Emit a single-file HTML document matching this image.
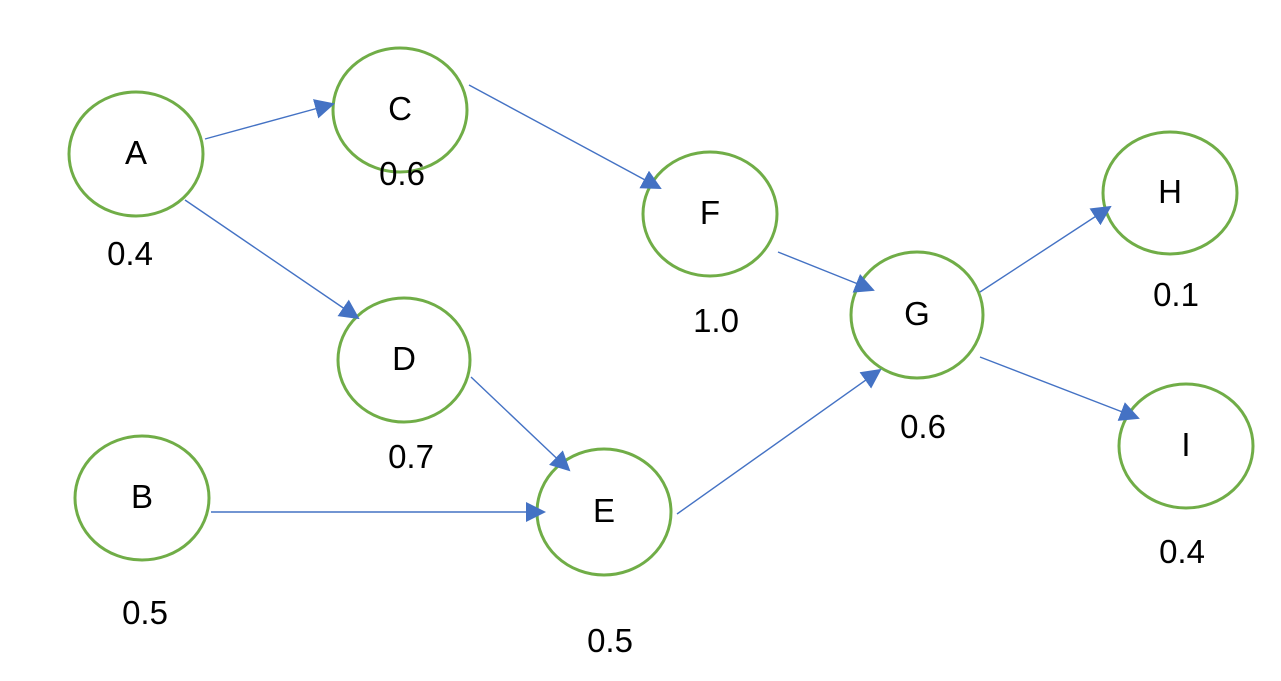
<!DOCTYPE html>
<html><head><meta charset="utf-8"><style>
html,body{margin:0;padding:0;background:#fff;}
svg{display:block}
text{font-family:"Liberation Sans",sans-serif;font-size:33px;fill:#000;}
</style></head><body>
<svg width="1281" height="681" viewBox="0 0 1281 681" xmlns="http://www.w3.org/2000/svg">
<defs><marker id="ar" viewBox="0 0 10 10" refX="9" refY="5" markerWidth="20" markerHeight="20" markerUnits="userSpaceOnUse" orient="auto"><path d="M0,0 L10,5 L0,10 z" fill="#4472C4"/></marker></defs>
<g fill="none" stroke="#70AD47" stroke-width="3">
<ellipse cx="136" cy="154" rx="67" ry="62"/>
<ellipse cx="400" cy="110" rx="67" ry="62"/>
<ellipse cx="710" cy="214" rx="67" ry="62"/>
<ellipse cx="404" cy="360" rx="66" ry="62"/>
<ellipse cx="142" cy="498" rx="67" ry="62"/>
<ellipse cx="604" cy="512" rx="67" ry="63"/>
<ellipse cx="917" cy="315" rx="66" ry="63"/>
<ellipse cx="1170" cy="193" rx="67" ry="61"/>
<ellipse cx="1186" cy="446" rx="67" ry="62"/>
</g>
<g stroke="#4472C4" stroke-width="1.4" marker-end="url(#ar)">
<line x1="205" y1="139" x2="333" y2="104"/>
<line x1="185" y1="200" x2="358" y2="318"/>
<line x1="469" y1="85" x2="660" y2="188"/>
<line x1="471" y1="377" x2="569" y2="470"/>
<line x1="211" y1="512" x2="544" y2="512"/>
<line x1="677" y1="514" x2="880" y2="370"/>
<line x1="778" y1="252" x2="873" y2="290"/>
<line x1="980" y1="292" x2="1110" y2="207"/>
<line x1="980" y1="357" x2="1138" y2="418"/>
</g>
<g text-anchor="middle" style="font-size:29px">
<text x="136" y="164">A</text>
<text x="400" y="120">C</text>
<text x="710" y="224">F</text>
<text x="404" y="370">D</text>
<text x="142" y="508">B</text>
<text x="604" y="522">E</text>
<text x="917" y="325">G</text>
<text x="1170" y="203">H</text>
<text x="1186" y="456">I</text>
</g>
<g text-anchor="middle">
<text x="130" y="265">0.4</text>
<text x="402" y="185">0.6</text>
<text x="716" y="332">1.0</text>
<text x="411" y="468">0.7</text>
<text x="145" y="624">0.5</text>
<text x="610" y="652">0.5</text>
<text x="923" y="438">0.6</text>
<text x="1176" y="306">0.1</text>
<text x="1182" y="563">0.4</text>
</g>
</svg>
</body></html>
